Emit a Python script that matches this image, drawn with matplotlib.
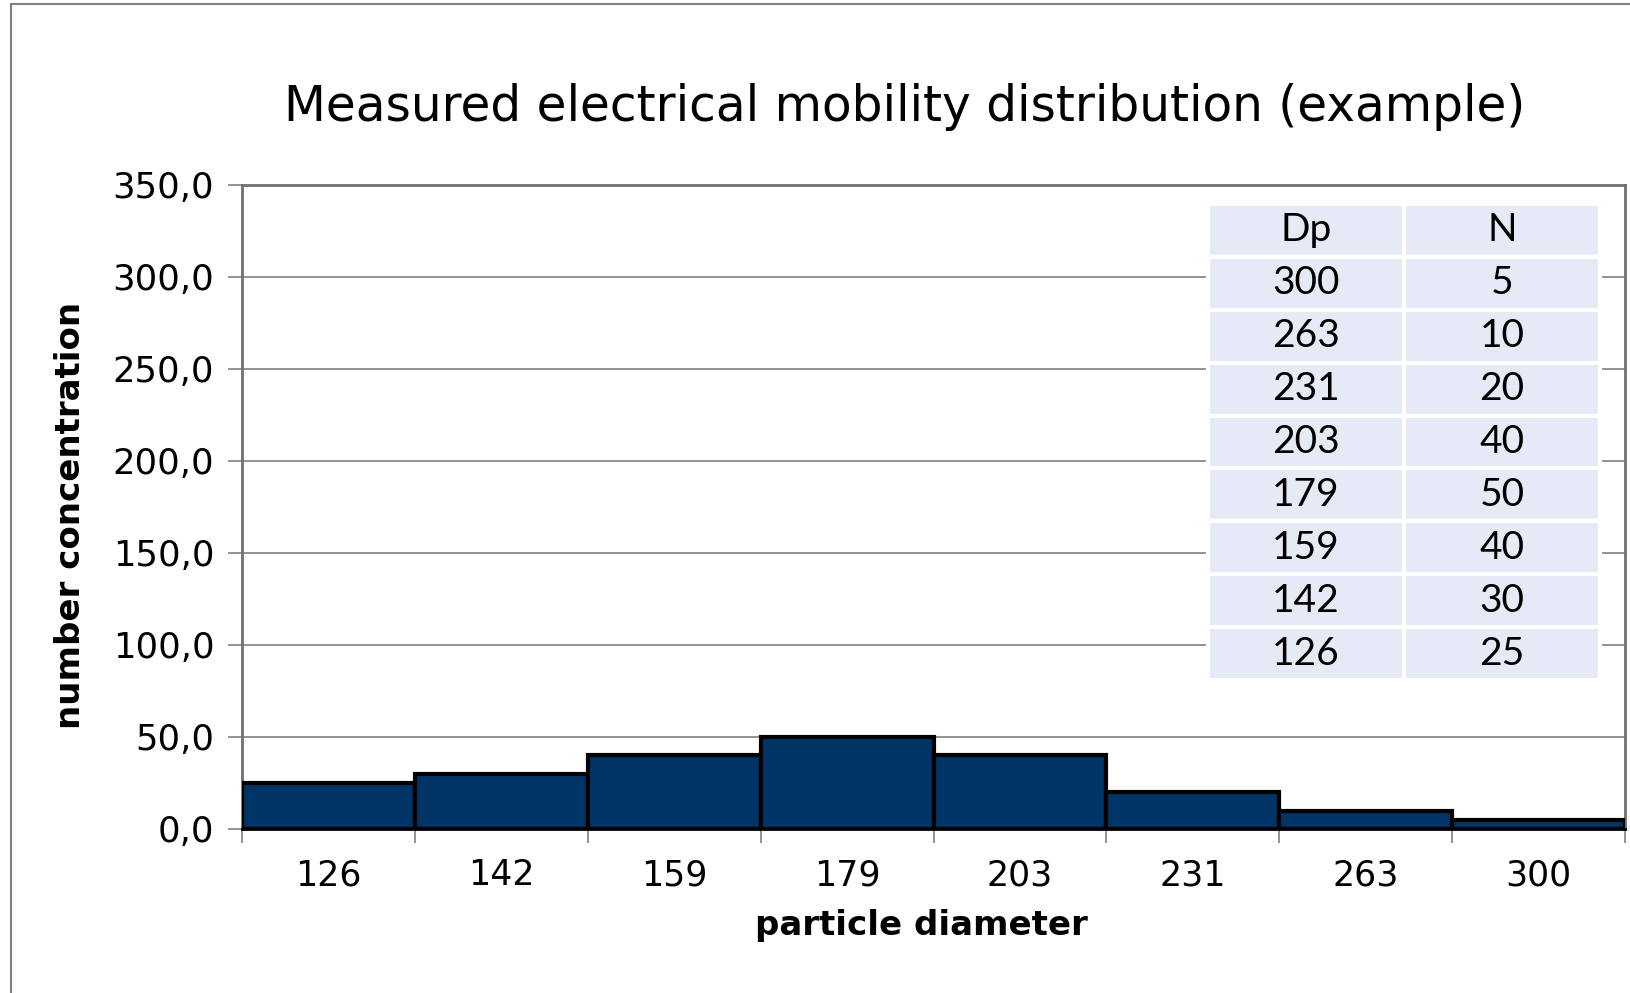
import matplotlib
matplotlib.use("Agg")
import matplotlib.pyplot as plt
from matplotlib.ticker import FuncFormatter
from matplotlib.lines import Line2D

diameters = [126, 142, 159, 179, 203, 231, 263, 300]
counts = [25, 30, 40, 50, 40, 20, 10, 5]
table_header = ["Dp", "N"]

fig = plt.figure(figsize=(16.31, 9.93), dpi=100)
ax = fig.add_axes([0.1484, 0.1652, 0.9963 - 0.1484, 0.8137 - 0.1652])

# outer chart frame (left and top edges visible)
fx = 11 / 1631
fy = 1 - 4 / 993
fig.add_artist(Line2D([fx, fx], [0, fy], color="#808080", lw=1.5, transform=fig.transFigure))
fig.add_artist(Line2D([fx, 1], [fy, fy], color="#808080", lw=1.5, transform=fig.transFigure))

pos = list(range(len(diameters)))
ax.bar(pos, counts, width=1.0, color="#003366", edgecolor="black", linewidth=3, zorder=3)

ax.set_xlim(-0.5, len(diameters) - 0.5)
ax.set_ylim(0, 350)
ax.set_yticks(range(0, 351, 50))
ax.yaxis.set_major_formatter(FuncFormatter(lambda v, p: f"{v:.1f}".replace(".", ",")))
ax.yaxis.grid(True, color="#808080", lw=1.2, zorder=0)

ax.set_xticks([p - 0.5 for p in pos] + [len(pos) - 0.5])
ax.set_xticklabels([])
ax.set_xticks(pos, minor=True)
ax.set_xticklabels([str(d) for d in diameters], minor=True)
ax.tick_params(axis="x", which="major", length=10, width=1.2, color="#808080", direction="out")
ax.tick_params(axis="x", which="minor", length=0, labelsize=25, pad=21)
ax.tick_params(axis="y", length=10, width=1.2, color="#808080", labelsize=25.5, pad=10)

for s in ["left", "top", "right"]:
    ax.spines[s].set_color("#707070")
    ax.spines[s].set_linewidth(2)
ax.spines["bottom"].set_color("black")
ax.spines["bottom"].set_linewidth(2)

ax.set_xlabel("particle diameter", fontsize=24.5, fontweight="bold", va="center")
ax.xaxis.set_label_coords(0.4914, (829 - 926) / 644)
ax.set_ylabel("number concentration", fontsize=24.5, fontweight="bold", va="center")
ax.yaxis.set_label_coords((70 - 242) / 1383, 0.4876)
fig.text(905 / 1631, 1 - 107 / 993, "Measured electrical mobility distribution (example)",
         fontsize=35, ha="center", va="center")

rows = [table_header] + [[str(d), str(n)] for d, n in zip(diameters[::-1], counts[::-1])]
tbl = ax.table(cellText=rows, cellLoc="center",
               bbox=[0.6985, 0.2314, 0.2835, 0.7391], zorder=5)
tbl.auto_set_font_size(False)
for (r, c), cell in tbl.get_celld().items():
    cell.set_facecolor("#E6EAF6")
    cell.set_edgecolor("white")
    cell.set_linewidth(3)
    cell.get_text().set_fontsize(28)
    cell.get_text().set_fontfamily("Lato")

fig.savefig("out.png", dpi=100)
